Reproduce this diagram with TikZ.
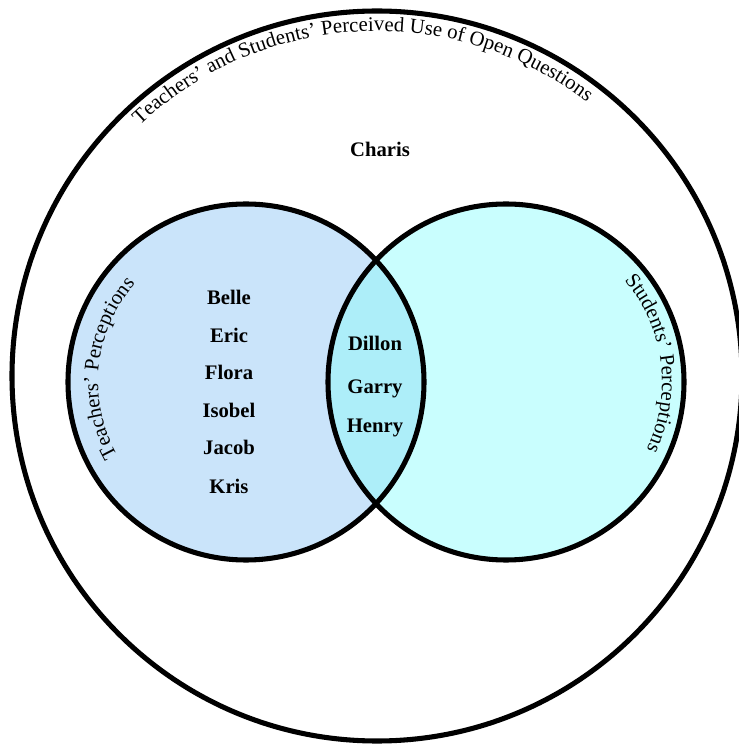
\documentclass[tikz,border=0pt]{standalone}
\usepackage{fontspec}
\setmainfont{Liberation Serif}
\usetikzlibrary{decorations.text,calc}
\definecolor{teachfill}{HTML}{CAE4FA}
\definecolor{studfill}{HTML}{C9FEFE}
\definecolor{lensfill}{HTML}{ADEEF9}
\newcommand\arcfont{\fontsize{15.6}{15.6}\selectfont}
\tikzset{
  ring/.style={draw=black, line width=3.8pt},
  personlabel/.style={font=\fontsize{15.5}{15.5}\selectfont\bfseries, anchor=base, inner sep=0pt},
  arclabel/.style={decorate, decoration={text along path, text align=center, text={#1}}}
}
\begin{document}
\begin{tikzpicture}[x=0.75pt,y=0.75pt]
\useasboundingbox (0,0) rectangle (739,747);
\coordinate (oc) at (377,371);
\coordinate (lc) at (246,365);
\coordinate (rc) at (506,365);
% fills
\fill[teachfill] (lc) circle (178);
\fill[studfill] (rc) circle (178);
\begin{scope}
  \clip (lc) circle (178);
  \fill[lensfill] (rc) circle (178);
\end{scope}
% outlines
\draw[ring] (oc) circle (365);
\draw[ring] (lc) circle (178);
\draw[ring] (rc) circle (178);
% curved labels
\path[arclabel={|\arcfont|Teachers' and Students' Perceived Use of Open Questions}]
  ($(oc)+(134:345)$) arc[start angle=134, end angle=52, radius=345];
\path[arclabel={|\arcfont|Teachers' Perceptions}]
  ($(lc)+(235:148)$) arc[start angle=235, end angle=113, radius=148];
\path[arclabel={|\arcfont|Students' Perceptions}]
  ($(rc)+(70:156)$) arc[start angle=70, end angle=-55, radius=156];
% names
\node[personlabel] (charis) at (380,590) {Charis};
\node[personlabel] (belle) at (229,442) {Belle};
\node[personlabel] (eric) at (229,404) {Eric};
\node[personlabel] (flora) at (229,367) {Flora};
\node[personlabel] (isobel) at (229,329) {Isobel};
\node[personlabel] (jacob) at (229,292) {Jacob};
\node[personlabel] (kris) at (229,253) {Kris};
\node[personlabel] (dillon) at (375,396) {Dillon};
\node[personlabel] (garry) at (375,353) {Garry};
\node[personlabel] (henry) at (375,314) {Henry};
\end{tikzpicture}
\end{document}
